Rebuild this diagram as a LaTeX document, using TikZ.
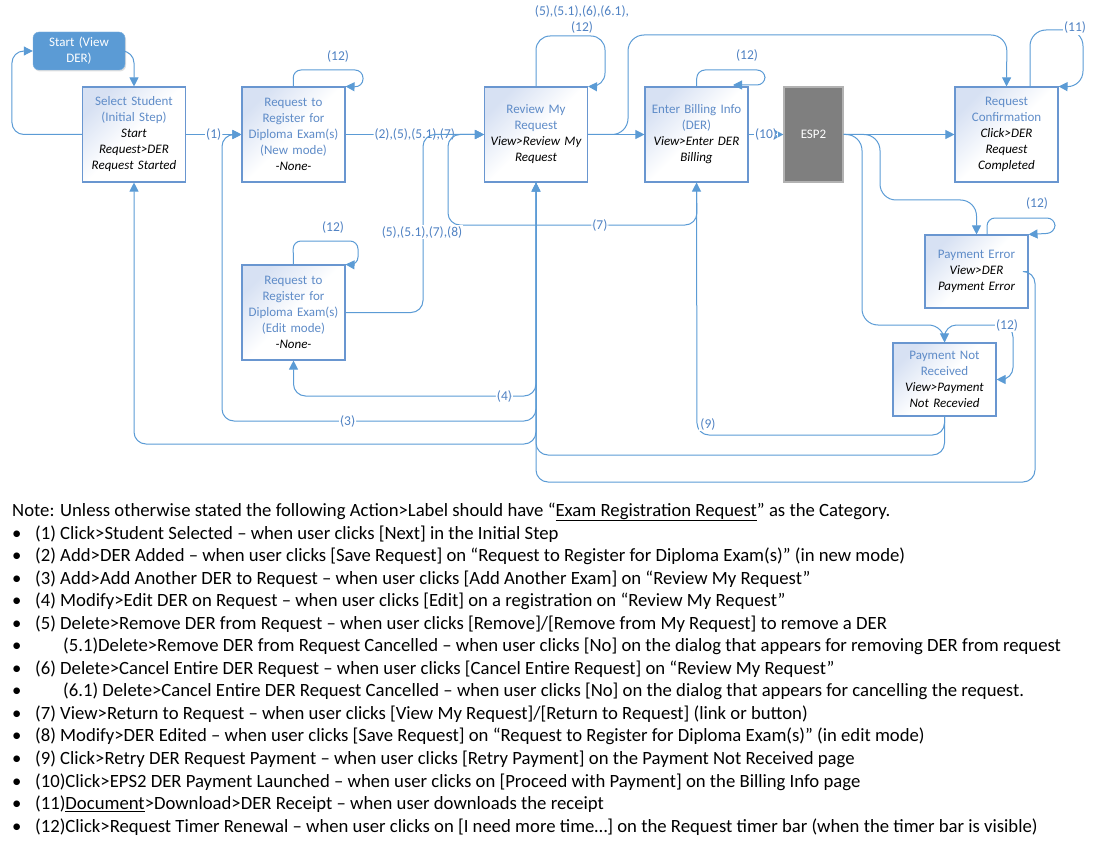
\documentclass[tikz,border=0pt]{standalone}
\usepackage{fontspec}
\setmainfont{Carlito}
\usetikzlibrary{arrows.meta,shadows}
\definecolor{lc}{RGB}{91,155,213}
\definecolor{bdr}{RGB}{105,150,208}
\definecolor{hdr}{RGB}{95,140,200}
\definecolor{shd}{RGB}{215,225,243}
\definecolor{lblc}{RGB}{80,130,195}
\definecolor{startc}{RGB}{91,155,213}
\definecolor{espc}{RGB}{127,127,127}
\newcommand\act[1]{{\color{black}\itshape #1}}
\tikzset{
 box/.style={draw=bdr, line width=1.1pt, top color=shd, bottom color=white, middle color=white, shading angle=45,
   minimum width=103pt, minimum height=95pt, text width=101pt, align=center, inner sep=0pt,
   font=\fontsize{13}{16}\selectfont, text=hdr},
 sbox/.style={box, minimum height=73pt},
 conn/.style={draw=lc, line width=1pt, rounded corners=12pt, -{Triangle[length=9pt,width=9pt]}},
 loopc/.style={conn, rounded corners=8pt},
 plainc/.style={draw=lc, line width=1pt, rounded corners=12pt},
 lbl/.style={fill=white, text=lblc, inner sep=1pt, font=\fontsize{13.5}{16}\selectfont, align=center},
 ntext/.style={anchor=base west, inner sep=0pt, font=\fontsize{18.7}{22}\selectfont},
}
\begin{document}
\begin{tikzpicture}[x=1pt,y=-1pt]
\useasboundingbox (0,0) rectangle (1093,848);

% nodes
\node[draw=startc!80!white, fill=startc, rounded corners=6pt, minimum width=92pt, minimum height=38pt,
  text width=90pt, align=center, inner sep=0pt, text=white, font=\fontsize{13}{16}\selectfont,
  drop shadow={opacity=0.25, shadow xshift=1pt, shadow yshift=-1.5pt}] (start) at (79,51) {Start (View\\DER)};
\node[box] (sel) at (134,134.5) {Select Student\\(Initial Step)\\\act{Start}\\\act{Request>DER}\\\act{Request Started}};
\node[box] (req) at (293.5,134.5) {Request to\\Register for\\Diploma Exam(s)\\(New mode)\\\act{-None-}};
\node[box] (edit) at (293.5,312.5) {Request to\\Register for\\Diploma Exam(s)\\(Edit mode)\\\act{-None-}};
\node[box] (rev) at (536,134.5) {Review My\\Request\\\act{View>Review My}\\\act{Request}};
\node[box] (bill) at (696.5,134.5) {Enter Billing Info\\(DER)\\\act{View>Enter DER}\\\act{Billing}};
\node[draw=black!30, line width=1.1pt, fill=espc, minimum width=59pt, minimum height=95pt, inner sep=0pt,
  text=white, font=\fontsize{13}{16}\selectfont] (esp) at (813.5,134.5) {ESP2};
\node[box] (rc) at (1006.5,134.5) {Request\\Confirmation\\\act{Click>DER}\\\act{Request}\\\act{Completed}};
\node[sbox] (pe) at (976.5,271.5) {Payment Error\\\act{View>DER}\\\act{Payment Error}};
\node[sbox] (pnr) at (944.5,379.5) {Payment Not\\Received\\\act{View>Payment}\\\act{Not Recevied}};

% straight connectors
\draw[conn] (start.east) -| (sel.north);
\draw[conn] (sel.west) -- ++(-70,0) |- (start.west);
\draw[conn] (sel) -- node[lbl]{(1)} (req);
\draw[conn] (req) -- node[lbl]{(2),(5),(5.1),(7)} (rev);
\draw[conn] (rev) -- (bill);
\draw[conn] (bill) -- node[lbl]{(10)} (esp);
\draw[conn] (esp) -- (rc);

% Review -> Request Confirmation over the top
\draw[conn, rounded corners=16pt] (rev.east) -- (628,134.5) -- (628,35) -- (1007,35) -- (rc.north);

% self loops
\draw[loopc, rounded corners=14pt] (rev.north) -- (536,36) -- (605,36) -- (605,87) -- (rev.north east);
\node[lbl] (l5) at (582,20) {(5),(5.1),(6),(6.1),\\(12)};
\draw[loopc] (req.north) -- (293,70) -- (363,70) -- (363,87) -- (req.north east);
\node[lbl] (l12a) at (338,57) {(12)};
\draw[loopc] (edit.north) -- (293,241) -- (358,241) -- (358,265) -- (edit.north east);
\node[lbl] (l12b) at (333,227) {(12)};
\draw[loopc] (bill.north) -- (697,70) -- (765,70) -- (765,85) -- (733,85);
\node[lbl] (l12c) at (747,55) {(12)};
\draw[loopc, rounded corners=16pt] (1030,87) -- (1030,30) -- (1083,30) -- (1083,87) -- (rc.north east);
\node[lbl] (l11) at (1075,28) {(11)};
\draw[loopc] (987,235) -- (987,218) -- (1055,218) -- (1055,233) -- (pe.north east);
\node[lbl] (l12d) at (1037,203) {(12)};
\draw[loopc, rounded corners=12pt] (pnr.north) -- (944.5,325) -- (1013,325) -- (1013,379.5) -- (pnr.east);
\node[lbl] (l12e) at (1007,325) {(12)};

% ESP2 branches
\draw[conn, rounded corners=16pt] (esp.east) -- (880,134.5) -- (880,200) -- (976.5,200) -- (pe.north);
\draw[conn, rounded corners=16pt] (esp.east) -- (862,134.5) -- (862,325) -- (944.5,325) -- (pnr.north);

% returns into Review bottom
\draw[conn] (pe.east) -- (1035,271.5) -- (1035,482) -- (536,482) -- (rev.south);
\draw[conn] (pnr.south) -- (944.5,455) -- (536,455) -- (rev.south);
\draw[conn] (pnr.south) -- (944.5,435) -- (697,435) -- (bill.south);
\node[lbl] (l9) at (708,424) {(9)};

% from Review bottom
\draw[conn] (rev.south) -- (536,396) -- node[lbl, pos=0.13]{(4)} (293.5,396) -- (edit.south);
\draw[conn] (rev.south) -- (536,421) -- node[lbl, pos=0.6]{(3)} (222,421) -- (222,134.5) -- (req.west);
\draw[conn] (rev.south) -- (536,444) -- (134,444) -- (sel.south);

% (7) from Billing and (5),(5.1),(7),(8) from Edit
\draw[conn] (bill.south) -- (697,225) -- node[lbl, pos=0.39]{(7)} (448,225) -- (448,134.5) -- (rev.west);
\draw[conn] (edit.east) -- (423,312.5) -- (423,134.5) -- (rev.west);
\node[lbl] (l5b) at (422,232) {(5),(5.1),(7),(8)};

% notes
\node[ntext] (n0) at (12,516) {Note: Unless otherwise stated the following Action>Label should have “\underline{Exam Registration Request}” as the Category.};
\foreach \i in {0,...,13} {\node[ntext] (b\i) at (12,{539+22.55*\i}) {•};}
\node[ntext] (t1) at (35,539) {(1) Click>Student Selected – when user clicks [Next] in the Initial Step};
\node[ntext] (t2) at (35,561.55) {(2) Add>DER Added – when user clicks [Save Request] on “Request to Register for Diploma Exam(s)” (in new mode)};
\node[ntext] (t3) at (35,584.1) {(3) Add>Add Another DER to Request – when user clicks [Add Another Exam] on “Review My Request”};
\node[ntext] (t4) at (35,606.65) {(4) Modify>Edit DER on Request – when user clicks [Edit] on a registration on “Review My Request”};
\node[ntext] (t5) at (35,629.2) {(5) Delete>Remove DER from Request – when user clicks [Remove]/[Remove from My Request] to remove a DER};
\node[ntext] (t51) at (63,651.75) {(5.1)Delete>Remove DER from Request Cancelled – when user clicks [No] on the dialog that appears for removing DER from request};
\node[ntext] (t6) at (35,674.3) {(6) Delete>Cancel Entire DER Request – when user clicks [Cancel Entire Request] on “Review My Request”};
\node[ntext] (t61) at (63,696.85) {(6.1) Delete>Cancel Entire DER Request Cancelled – when user clicks [No] on the dialog that appears for cancelling the request.};
\node[ntext] (t7) at (35,719.4) {(7) View>Return to Request – when user clicks [View My Request]/[Return to Request] (link or button)};
\node[ntext] (t8) at (35,741.95) {(8) Modify>DER Edited – when user clicks [Save Request] on “Request to Register for Diploma Exam(s)” (in edit mode)};
\node[ntext] (t9) at (35,764.5) {(9) Click>Retry DER Request Payment – when user clicks [Retry Payment] on the Payment Not Received page};
\node[ntext] (t10) at (35,787.05) {(10)Click>EPS2 DER Payment Launched – when user clicks on [Proceed with Payment] on the Billing Info page};
\node[ntext] (t11) at (35,809.6) {(11)\underline{Document}>Download>DER Receipt – when user downloads the receipt};
\node[ntext] (t12) at (35,832.15) {(12)Click>Request Timer Renewal – when user clicks on [I need more time…] on the Request timer bar (when the timer bar is visible)};
\end{tikzpicture}
\end{document}
